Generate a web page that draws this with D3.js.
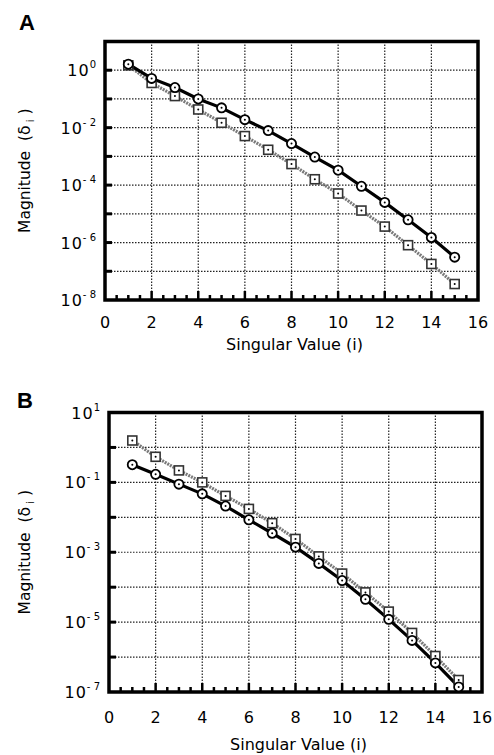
<!DOCTYPE html>
<html>
<head>
<meta charset="utf-8">
<script src="https://cdn.jsdelivr.net/npm/d3@7"></script>
<style>
  body { margin: 0; background: #fff; }
  svg { display: block; font-family: "DejaVu Sans", sans-serif; }
</style>
</head>
<body>
<div id="chart"></div>
<script>
// Singular value index
const index = d3.range(1, 16);

// Panel A magnitudes
const aCircles = [1.62, 0.52, 0.25, 0.10, 0.049, 0.019, 7.9e-3, 2.8e-3, 9.5e-4, 3.3e-4, 9.1e-5, 2.5e-5, 6.2e-6, 1.5e-6, 3.1e-7];
const aSquares = [1.48, 0.36, 0.126, 0.043, 0.0148, 5.1e-3, 1.7e-3, 5.4e-4, 1.6e-4, 5.1e-5, 1.3e-5, 3.6e-6, 8.1e-7, 1.8e-7, 3.6e-8];

// Panel B magnitudes
const bCircles = [0.32, 0.17, 0.089, 0.047, 0.021, 8.5e-3, 3.5e-3, 1.4e-3, 4.8e-4, 1.55e-4, 4.5e-5, 1.2e-5, 3.0e-6, 6.8e-7, 1.4e-7];
const bSquares = [1.58, 0.54, 0.22, 0.10, 0.041, 0.0174, 6.8e-3, 2.4e-3, 7.6e-4, 2.45e-4, 7.1e-5, 2.0e-5, 4.9e-6, 1.07e-6, 2.2e-7];

// Tick labels
const xTicks = [0, 2, 4, 6, 8, 10, 12, 14, 16];
const aYLabels = [0, -2, -4, -6, -8];
const bYLabels = [1, -1, -3, -5, -7];

const svg = d3.select("#chart").append("svg")
    .attr("width", 494)
    .attr("height", 755);

function panel(opt) {
    const x = d3.scaleLinear().domain([0, 16]).range([opt.left, opt.right]);
    const y = d3.scaleLog().domain([Math.pow(10, opt.minExp), Math.pow(10, opt.maxExp)]).range([opt.bottom, opt.top]);
    const g = svg.append("g");

    // panel letter
    g.append("text")
        .attr("x", opt.letterX).attr("y", opt.letterY)
        .style("font-family", "Liberation Sans, Arial, sans-serif")
        .style("font-size", "22px").style("font-weight", "bold")
        .text(opt.letter);

    // grid
    const decades = d3.range(opt.minExp + 1, opt.maxExp);
    g.selectAll(".hgrid").data(decades).join("line")
        .attr("x1", opt.left).attr("x2", opt.right)
        .attr("y1", d => y(Math.pow(10, d))).attr("y2", d => y(Math.pow(10, d)))
        .attr("stroke", "#222").attr("stroke-width", 1.2).attr("stroke-dasharray", "1.5,1.5");
    g.selectAll(".vgrid").data(d3.range(2, 16, 2)).join("line")
        .attr("x1", d => x(d)).attr("x2", d => x(d))
        .attr("y1", opt.top).attr("y2", opt.bottom)
        .attr("stroke", "#222").attr("stroke-width", 1.2).attr("stroke-dasharray", "1.5,1.5");

    // bottom ticks
    g.selectAll(".xt").data(d3.range(0.5, 16, 0.5)).join("line")
        .attr("x1", d => x(d)).attr("x2", d => x(d))
        .attr("y1", opt.bottom).attr("y2", d => opt.bottom - (d % 2 === 0 ? 9 : 5))
        .attr("stroke", "#000").attr("stroke-width", 2.5);
    // left ticks
    g.selectAll(".yt").data(decades).join("line")
        .attr("x1", opt.left).attr("x2", opt.left + 7)
        .attr("y1", d => y(Math.pow(10, d))).attr("y2", d => y(Math.pow(10, d)))
        .attr("stroke", "#000").attr("stroke-width", 3);

    // frame
    g.append("rect")
        .attr("x", opt.left).attr("y", opt.top)
        .attr("width", opt.right - opt.left).attr("height", opt.bottom - opt.top)
        .attr("fill", "none").attr("stroke", "#000").attr("stroke-width", 3.5);

    // x tick labels
    g.selectAll(".xl").data(xTicks).join("text")
        .attr("x", d => x(d)).attr("y", opt.bottom + opt.tickDy)
        .attr("text-anchor", "middle").style("font-size", "16px")
        .text(d => d);

    // y tick labels
    const yl = g.selectAll(".yl").data(opt.yLabels).join("text")
        .attr("x", opt.left - 9).attr("y", d => y(Math.pow(10, d)) + 6)
        .attr("text-anchor", "end").style("font-size", "16px");
    yl.append("tspan").style("letter-spacing", "1px").text("10");
    yl.append("tspan").attr("dy", -8).style("font-size", "10px")
        .text(d => d < 0 ? "- " + (-d) : "" + d);

    // axis titles
    g.append("text")
        .attr("x", (opt.left + opt.right) / 2 + 3).attr("y", opt.bottom + opt.titleDy)
        .attr("text-anchor", "middle").style("font-size", "16px")
        .text("Singular Value (i)");
    const yt = g.append("text")
        .attr("transform", `translate(30,${(opt.top + opt.bottom) / 2}) rotate(-90)`)
        .attr("text-anchor", "middle").style("font-size", "15.5px")
        .attr("xml:space", "preserve");
    yt.append("tspan").text("Magnitude  (δ");
    yt.append("tspan").attr("dy", 4).style("font-size", "10px").text(" i");
    yt.append("tspan").attr("dy", -4).text(" )");

    // series
    const line = d3.line().x((d, i) => x(index[i])).y(d => y(d));
    g.append("path").datum(opt.squares)
        .attr("d", line).attr("fill", "none")
        .attr("stroke", "#7a7a7a").attr("stroke-width", 3.2).attr("stroke-dasharray", "2,1");
    g.append("path").datum(opt.circles)
        .attr("d", line).attr("fill", "none")
        .attr("stroke", "#000").attr("stroke-width", 3.2);

    const sq = g.selectAll(".sq").data(opt.squares).join("g")
        .attr("transform", (d, i) => `translate(${x(index[i])},${y(d)})`);
    sq.append("rect").attr("x", -4.5).attr("y", -4.5).attr("width", 9).attr("height", 9)
        .attr("fill", "#fff").attr("stroke", "#333").attr("stroke-width", 1.6);
    sq.append("circle").attr("r", 1).attr("fill", "#000");

    const ci = g.selectAll(".ci").data(opt.circles).join("g")
        .attr("transform", (d, i) => `translate(${x(index[i])},${y(d)})`);
    ci.append("circle").attr("r", 4.6)
        .attr("fill", "#fff").attr("stroke", "#000").attr("stroke-width", 1.8);
    ci.append("circle").attr("r", 1).attr("fill", "#000");
}

panel({
    letter: "A", letterX: 19, letterY: 30,
    left: 105, right: 478, top: 41.5, bottom: 300,
    minExp: -8, maxExp: 1, yLabels: aYLabels,
    tickDy: 28, titleDy: 50,
    circles: aCircles, squares: aSquares
});

panel({
    letter: "B", letterX: 17, letterY: 408,
    left: 109, right: 482, top: 412.5, bottom: 692,
    minExp: -7, maxExp: 1, yLabels: bYLabels,
    tickDy: 31, titleDy: 58,
    circles: bCircles, squares: bSquares
});
</script>
</body>
</html>
